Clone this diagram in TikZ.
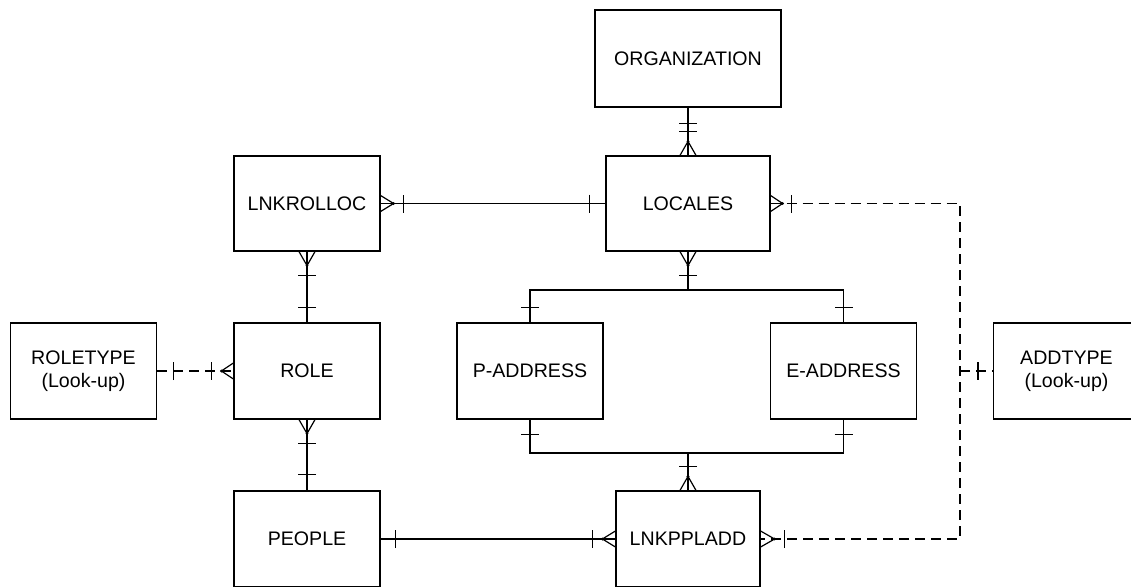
\documentclass[tikz,border=0pt]{standalone}
\usepackage{fontspec}
\setmainfont{Liberation Sans}
\usetikzlibrary{positioning}
\tikzset{
  entity/.style={draw, minimum width=73pt, minimum height=48pt, inner sep=0pt,
    align=center, font=\fontsize{9.8}{11.5}\selectfont},
  lookup/.style={dash pattern=on 5pt off 3pt},
  many/.pic={\draw (0,8) -- (#1,0) -- (0,-8); \fill (#1,0) circle (0.8pt);},
  one/.pic={\draw (#1,-9) -- (#1,9);}
}

\begin{document}
\begin{tikzpicture}[x=0.5pt,y=0.5pt,line width=0.6pt]
\useasboundingbox (0,0) rectangle (1131,586);
% entities
\node[entity, minimum width=93pt, minimum height=48.5pt] (org) at (688,527.5) {ORGANIZATION};
\node[entity, minimum width=82pt, minimum height=47.5pt] (loc) at (688,382.5) {LOCALES};
\node[entity, minimum height=47.5pt] (lnkrol) at (307,382.5) {LNKROLLOC};
\node[entity] (roletype) at (83.5,215) {ROLETYPE\\(Look-up)};
\node[entity] (role) at (307,215) {ROLE};
\node[entity] (padd) at (530,215) {P-ADDRESS};
\node[entity] (eadd) at (843.5,215) {E-ADDRESS};
\node[entity] (addtype) at (1066.5,215) {ADDTYPE\\(Look-up)};
\node[entity] (people) at (307,47) {PEOPLE};
\node[entity, minimum width=72pt] (lnkppl) at (688,47) {LNKPPLADD};
\coordinate (jtop) at (688,296);
\coordinate (jbot) at (688,133);
\coordinate (bend) at (960,215);

% relationships
\draw (org.south) -- (loc.north);
\pic[rotate=-90] at (org.south) {one=16};
\pic[rotate=-90] at (org.south) {one=24};
\pic[rotate=90] at (loc.north) {many=14};

\draw (lnkrol.east) -- (loc.west);
\pic at (lnkrol.east) {many=13};
\pic at (lnkrol.east) {one=23};
\pic[rotate=180] at (loc.west) {one=16};

\draw[lookup] (loc.east) -| (bend) |- (lnkppl.east);
\draw[lookup] (bend) -- (addtype.west);
\pic at (loc.east) {many=12};
\pic at (loc.east) {one=21};
\pic at (lnkppl.east) {many=14};
\pic at (lnkppl.east) {one=24};
\pic[rotate=180] at (addtype.west) {one=15};

\draw[lookup] (roletype.east) -- (role.west);
\pic at (roletype.east) {one=16};
\pic[rotate=180] at (role.west) {many=12};
\pic[rotate=180] at (role.west) {one=22};

\draw (lnkrol.south) -- (role.north);
\pic[rotate=-90] at (lnkrol.south) {many=14};
\pic[rotate=-90] at (lnkrol.south) {one=24};
\pic[rotate=90] at (role.north) {one=15};

\draw (role.south) -- (people.north);
\pic[rotate=-90] at (role.south) {many=14};
\pic[rotate=-90] at (role.south) {one=24};
\pic[rotate=90] at (people.north) {one=16};

\draw (people.east) -- (lnkppl.west);
\pic at (people.east) {one=15};
\pic[rotate=180] at (lnkppl.west) {many=13};
\pic[rotate=180] at (lnkppl.west) {one=23};

% address tree
\draw (loc.south) -- (jtop) -| (padd.north);
\draw (jtop) -| (eadd.north);
\pic[rotate=-90] at (loc.south) {many=14};
\pic[rotate=-90] at (loc.south) {one=24};
\pic[rotate=90] at (padd.north) {one=15};
\pic[rotate=90] at (eadd.north) {one=15};

\draw (padd.south) |- (jbot) -- (lnkppl.north);
\draw (eadd.south) |- (jbot);
\pic[rotate=-90] at (padd.south) {one=15};
\pic[rotate=-90] at (eadd.south) {one=15};
\pic[rotate=90] at (lnkppl.north) {many=14};
\pic[rotate=90] at (lnkppl.north) {one=24};
\end{tikzpicture}
\end{document}
